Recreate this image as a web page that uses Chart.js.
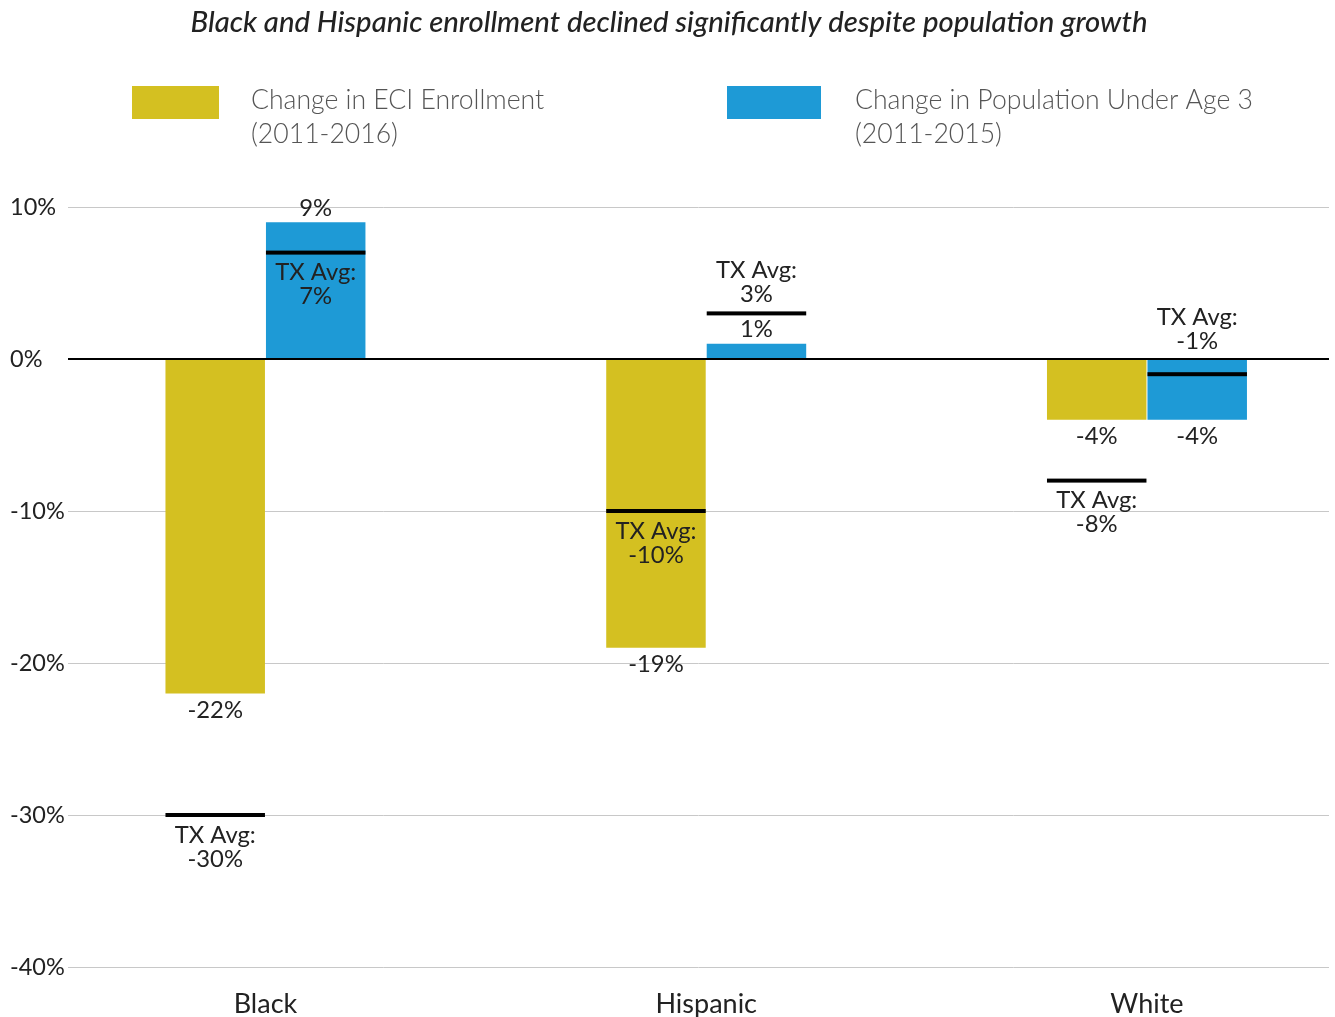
<!DOCTYPE html>
<html><head><meta charset="utf-8">
<script src="https://cdn.jsdelivr.net/npm/chart.js@4.4.1/dist/chart.umd.min.js"></script>
<style>html,body{margin:0;padding:0;background:#fff}canvas{display:block}</style>
</head><body>
<canvas id="c" width="1335" height="1017"></canvas>
<script>
const categories = ['Black', 'Hispanic', 'White'];
const enrollmentChange = [-22, -19, -4];
const populationChange = [9, 1, -4];
const enrollmentTxAvg = [-30, -10, -8];
const populationTxAvg = [7, 3, -1];
const seriesNames = [['Change in ECI Enrollment', '(2011-2016)'], ['Change in Population Under Age 3', '(2011-2015)']];
const titleText = 'Black and Hispanic enrollment declined significantly despite population growth';
const avgPrefix = 'TX Avg:';
const yMin = -40, yMax = 10, yStep = 10;

const FONT = 'Lato, "Open Sans", sans-serif';
const seriesColors = ['#D4C021', '#1E9AD6'];
const txtColor = '#222';

const overlay = {
  id: 'overlay',
  afterDraw(chart) {
    const ctx = chart.ctx;
    const ys = chart.scales.y;
    ctx.save();
    // Title
    ctx.font = 'italic 500 29.3px ' + FONT;
    ctx.fillStyle = txtColor;
    ctx.textAlign = 'center';
    ctx.textBaseline = 'middle';
    ctx.fillText(titleText, 669, 23);
    // Legend
    const legendPos = [{bx: 132, bw: 87, tx: 251}, {bx: 727, bw: 94, tx: 855}];
    ctx.font = '300 26.6px ' + FONT;
    ctx.textAlign = 'left';
    seriesNames.forEach((lines, i) => {
      const p = legendPos[i];
      ctx.fillStyle = seriesColors[i];
      ctx.fillRect(p.bx, 86, p.bw, 33);
      ctx.fillStyle = '#555';
      lines.forEach((t, j) => ctx.fillText(t, p.tx, 100 + j * 34));
    });
    // Value labels + TX average markers
    const avgs = [enrollmentTxAvg, populationTxAvg];
    ctx.font = '23.8px ' + FONT;
    ctx.textAlign = 'center';
    chart.data.datasets.forEach((ds, di) => {
      const meta = chart.getDatasetMeta(di);
      meta.data.forEach((el, i) => {
        const v = ds.data[i].y;
        const labelY = v >= 0 ? el.y - 14 : el.y + 17;
        ctx.fillStyle = txtColor;
        ctx.fillText(v + '%', el.x, labelY);
        const a = avgs[di][i];
        const ly = ys.getPixelForValue(a);
        ctx.fillStyle = '#000';
        ctx.fillRect(el.x - el.width / 2, ly - 2, el.width, 4);
        // below placement unless it collides with the value label
        const b1 = ly + 20, b2 = ly + 44;
        const collide = (b2 + 12 > labelY - 12) && (b1 - 12 < labelY + 12);
        ctx.fillStyle = txtColor;
        if (!collide) {
          ctx.fillText(avgPrefix, el.x, b1);
          ctx.fillText(a + '%', el.x, b2);
        } else {
          const anchor = Math.min(ly, Math.min(el.y, el.base));
          ctx.fillText(a + '%', el.x, anchor - 19);
          ctx.fillText(avgPrefix, el.x, anchor - 43);
        }
      });
    });
    ctx.restore();
  }
};

const toPts = arr => arr.map((v, i) => ({x: i, y: v}));

new Chart(document.getElementById('c'), {
  type: 'bar',
  data: {
    datasets: [
      {label: seriesNames[0].join(' '), data: toPts(enrollmentChange), backgroundColor: seriesColors[0]},
      {label: seriesNames[1].join(' '), data: toPts(populationChange), backgroundColor: seriesColors[1]}
    ]
  },
  options: {
    responsive: false,
    animation: false,
    events: [],
    categoryPercentage: 0.456,
    barPercentage: 0.99,
    layout: {padding: {top: 207, left: 10, right: 6, bottom: 0}},
    plugins: {legend: {display: false}, title: {display: false}, tooltip: {enabled: false}},
    scales: {
      x: {
        type: 'linear',
        offset: false,
        min: -0.448,
        max: 2.413,
        afterBuildTicks: s => { s.ticks = categories.map((_, i) => ({value: i})); },
        afterFit: s => { s.height = 50; },
        grid: {display: false, drawTicks: false, offset: false},
        border: {display: false},
        ticks: {
          callback: v => categories[v],
          font: {family: FONT, size: 27},
          color: txtColor,
          padding: 21,
          maxRotation: 0,
          autoSkip: false
        }
      },
      y: {
        min: yMin, max: yMax,
        afterFit: s => { s.width = 58; },
        border: {display: false},
        grid: {
          drawTicks: false,
          color: c => c.tick && c.tick.value === 0 ? '#000' : '#c8c8c8',
          lineWidth: c => c.tick && c.tick.value === 0 ? 2 : 1
        },
        ticks: {
          stepSize: yStep,
          crossAlign: 'far',
          callback: v => v + '%',
          font: {family: FONT, size: 23.5},
          color: txtColor
        }
      }
    }
  },
  plugins: [overlay]
});
</script>
</body></html>
